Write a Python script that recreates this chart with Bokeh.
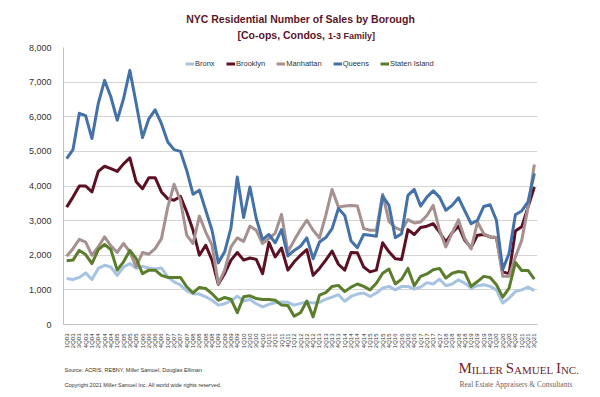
from bokeh.plotting import figure
from bokeh.layouts import column, row
from bokeh.models import Label, Legend, LegendItem, FixedTicker, NumeralTickFormatter, Range1d
from bokeh.embed import file_html
from bokeh.resources import INLINE

quarters = ["1Q03", "2Q03", "3Q03", "4Q03", "1Q04", "2Q04", "3Q04", "4Q04",
            "1Q05", "2Q05", "3Q05", "4Q05", "1Q06", "2Q06", "3Q06", "4Q06",
            "1Q07", "2Q07", "3Q07", "4Q07", "1Q08", "2Q08", "3Q08", "4Q08",
            "1Q09", "2Q09", "3Q09", "4Q09", "1Q10", "2Q10", "3Q10", "4Q10",
            "1Q11", "2Q11", "3Q11", "4Q11", "1Q12", "2Q12", "3Q12", "4Q12",
            "1Q13", "2Q13", "3Q13", "4Q13", "1Q14", "2Q14", "3Q14", "4Q14",
            "1Q15", "2Q15", "3Q15", "4Q15", "1Q16", "2Q16", "3Q16", "4Q16",
            "1Q17", "2Q17", "3Q17", "4Q17", "1Q18", "2Q18", "3Q18", "4Q18",
            "1Q19", "2Q19", "3Q19", "4Q19", "1Q20", "2Q20", "3Q20", "4Q20",
            "1Q21", "2Q21", "3Q21"]

bronx = [1330, 1300, 1360, 1490, 1300, 1620, 1710, 1660, 1420, 1660, 1760, 1620,
         1680, 1630, 1600, 1630, 1380, 1230, 1140, 970, 890, 880, 800, 700,
         560, 600, 680, 820, 680, 720, 600, 510, 580, 630, 650, 640,
         560, 610, 640, 620, 640, 730, 790, 860, 670, 810, 880, 910,
         810, 910, 1050, 1100, 1000, 1100, 1100, 1020, 1080, 1210, 1170, 1310,
         1120, 1170, 1290, 1190, 1050, 1120, 1150, 1100, 1000, 620, 760, 950,
         1000, 1080, 980]

brooklyn = [3390, 3680, 4000, 4000, 3830, 4420, 4570, 4500, 4420, 4640, 4810, 4120,
            3920, 4240, 4240, 3830, 3630, 3590, 3700, 3250, 2720, 2000, 2290, 1860,
            1160, 1470, 1860, 2080, 1860, 1920, 1880, 1470, 2370, 1950, 2210, 1570,
            1810, 2000, 2160, 1420, 1620, 1860, 2120, 1740, 1570, 2080, 2070, 1660,
            1520, 1570, 2360, 2100, 1900, 1880, 2740, 2600, 2800, 2840, 2910, 2670,
            2380, 2650, 2840, 2430, 2220, 2580, 2600, 2530, 2510, 1520, 1470, 2700,
            2820, 3390, 3970]

manhattan = [1970, 2190, 2460, 2380, 2000, 2240, 2530, 2270, 2080, 2340, 2100, 1660,
             2080, 2030, 2190, 2480, 3390, 4050, 3590, 2580, 2340, 3130, 2670, 2290,
             1180, 1570, 2240, 2500, 2400, 2840, 2720, 2340, 2480, 2640, 3180, 2100,
             2430, 2740, 3010, 2720, 2500, 3150, 3900, 3390, 3420, 3440, 3420, 2770,
             2720, 2720, 3760, 2980, 2800, 2720, 3030, 2930, 2960, 3150, 3440, 2720,
             2240, 2650, 3020, 2480, 2180, 2960, 2620, 2530, 2510, 1390, 1390, 1950,
             2430, 3390, 4620]

queens = [4790, 5050, 6100, 6030, 5370, 6380, 7050, 6570, 5900, 6520, 7340, 6380,
          5400, 5940, 6200, 5800, 5270, 5050, 5000, 4450, 3760, 3880, 3300, 2720,
          1780, 2100, 2790, 4260, 3090, 3970, 3060, 2450, 2600, 2360, 2740, 1980,
          2140, 2260, 2500, 1900, 2380, 2510, 2770, 3350, 3150, 2410, 2220, 2600,
          2580, 2550, 3710, 3440, 2510, 2620, 3730, 3900, 3420, 3680, 3860, 3680,
          3300, 3440, 3660, 3280, 2910, 3010, 3410, 3460, 3010, 1590, 2050, 3170,
          3280, 3540, 4360]

staten_island = [1840, 1860, 2140, 2020, 1760, 2160, 2310, 2160, 1570, 1810, 2140, 1900,
                 1470, 1570, 1570, 1420, 1360, 1360, 1360, 1090, 910, 1070, 1040, 890,
                 700, 780, 730, 340, 800, 830, 750, 720, 720, 700, 560, 550,
                 240, 340, 680, 220, 850, 920, 1100, 1130, 950, 1080, 1170, 1100,
                 1000, 1190, 1480, 1600, 1170, 1310, 1620, 1120, 1390, 1460, 1580, 1620,
                 1340, 1480, 1530, 1500, 1100, 1240, 1390, 1360, 1150, 790, 1050, 1790,
                 1560, 1560, 1310]

y_ticks = [0, 1000, 2000, 3000, 4000, 5000, 6000, 7000, 8000]

series = [("Bronx", bronx, "#a7c3e2"),
          ("Brooklyn", brooklyn, "#5c1023"),
          ("Manhattan", manhattan, "#a69090"),
          ("Queens", queens, "#4371a8"),
          ("Staten Island", staten_island, "#5b7e2d")]

FONT = "Liberation Sans"
SERIF = "Liberation Serif"
TEXT = "#333333"
TITLE_COL = "#5b1628"
LOGO = "#6e1f2a"
W = 600
BL, BR = 63, 63  # plot frame borders of the chart


def text_panel(y0, y1, bl, br):
    f = figure(width=W, height=y1 - y0, output_backend="svg", toolbar_location=None,
               title_location=None,
               x_range=Range1d(bl, W - br), y_range=Range1d(y1, y0),
               x_axis_type=None, y_axis_type=None,
               min_border_left=bl, min_border_right=br, min_border_top=0,
               min_border_bottom=0, background_fill_color="white",
               border_fill_color="white")
    f.outline_line_color = None
    f.xgrid.visible = False
    f.ygrid.visible = False
    return f


def lab(f, text, x, y, size, color, font=FONT, style="normal", align="left"):
    f.add_layout(Label(x=x, y=y, text=text, text_font=font, text_font_size=size,
                       text_color=color, text_font_style=style, text_align=align,
                       text_baseline="middle"))


# ---- header (page y 0..42) ----
header = text_panel(0, 42, BL, BR)
lab(header, "NYC Residential Number of Sales by Borough", 300, 18, "10.5px",
    TITLE_COL, style="bold", align="center")
lab(header, "[Co-ops, Condos, ", 237, 34.5, "10.5px", TITLE_COL, style="bold")
lab(header, "1-3 Family]", 327.5, 35, "9px", TITLE_COL, style="bold")

# ---- main chart (page y 42..352) ----
p = figure(width=W, height=310, output_backend="svg", toolbar_location=None,
           title_location=None,
           x_range=(-0.5, len(quarters) - 0.5), y_range=(0, 8000),
           min_border_left=BL, min_border_right=BR, min_border_top=5,
           min_border_bottom=28, background_fill_color="white",
           border_fill_color="white")
p.outline_line_color = None

xs = list(range(len(quarters)))
items = []
for name, vals, col in series:
    r = p.line(xs, vals, line_color=col, line_width=3, line_join="round")
    items.append(LegendItem(label=name, renderers=[r]))

p.xaxis.ticker = FixedTicker(ticks=xs)
p.xaxis.major_label_overrides = {i: q for i, q in enumerate(quarters)}
p.xaxis.major_label_orientation = 3.14159265 / 2
p.xaxis.major_label_text_font = FONT
p.xaxis.major_label_text_font_size = "6px"
p.xaxis.major_label_text_color = TEXT
p.xaxis.major_label_standoff = 3
p.xaxis.major_tick_line_color = None
p.xaxis.minor_tick_line_color = None
p.xaxis.axis_line_color = "#bfbfbf"

p.yaxis.ticker = FixedTicker(ticks=y_ticks)
p.yaxis.formatter = NumeralTickFormatter(format="0,0")
p.yaxis.major_label_text_font = FONT
p.yaxis.major_label_text_font_size = "9px"
p.yaxis.major_label_text_color = TEXT
p.yaxis.major_label_standoff = 6
p.yaxis.major_tick_line_color = None
p.yaxis.minor_tick_line_color = None
p.yaxis.axis_line_color = "#bfbfbf"

p.xgrid.grid_line_color = None
p.ygrid.grid_line_color = "#d4d4d4"
p.ygrid.grid_line_width = 1

legend = Legend(items=items, location=(122, 256), orientation="horizontal",
                label_text_font=FONT, label_text_font_size="7.5px",
                label_text_color=TEXT, glyph_width=9, glyph_height=9,
                label_height=9, label_standoff=1, spacing=11, padding=0,
                margin=0, border_line_color=None, background_fill_alpha=0)
p.add_layout(legend)

# ---- footer (page y 352..396), full-width frame ----
footer = text_panel(352, 396, 0, 0)
lab(footer, "Source: ACRIS, REBNY, Miller Samuel, Douglas Elliman", 64, 369,
    "5.5px", TEXT)
lab(footer, "Copyright 2021 Miller Samuel Inc.  All world wide rights reserved.",
    64, 384, "5.5px", TEXT)

x0 = 458
parts = [("M", 15, 13.3, 367.5), ("ILLER ", 11, 33.9, 369), ("S", 15, 8.3, 367.5),
         ("AMUEL ", 11, 41.9, 369), ("I", 15, 5.0, 367.5), ("NC.", 11, 18.0, 369)]
for txt, sz, w, yy in parts:
    lab(footer, txt, x0, yy, f"{sz}px", LOGO, font=SERIF)
    x0 += w
lab(footer, "Real Estate Appraisers & Consultants", 459, 384, "7.5px", "#666666",
    font=SERIF)

layout = column(header, p, row(footer), spacing=0)
open("out.html", "w").write(file_html(layout, INLINE))
